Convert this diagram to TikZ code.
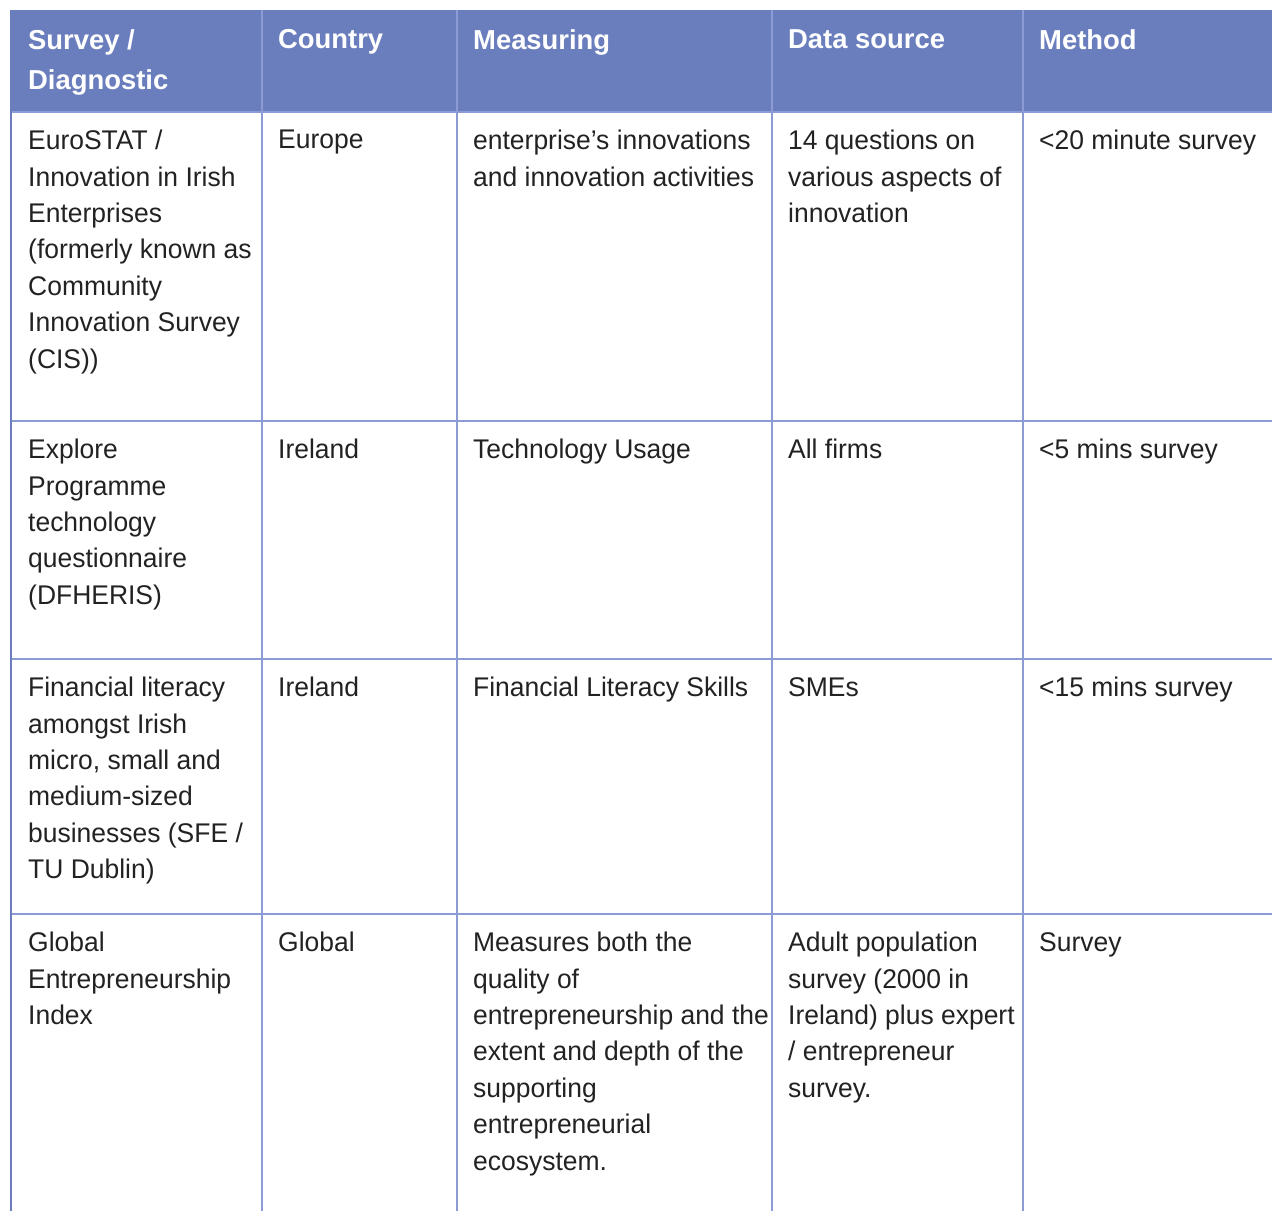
\documentclass[tikz,border=0pt]{standalone}
\usepackage{fontspec}
\setmainfont{Liberation Sans}
\newfontfamily\bodyfont{Liberation Sans}[FakeStretch=0.98]
\definecolor{headblue}{RGB}{106,126,190}
\definecolor{gridblue}{RGB}{140,155,214}
\definecolor{cellgray}{RGB}{34,34,34}

\begin{document}
\begin{tikzpicture}[x=1pt,y=-1pt,
  cell/.style={anchor=north west,inner sep=0pt,align=left,text=cellgray,
    font=\bodyfont\fontsize{27}{36.4}\selectfont},
  headcell/.style={cell,text=white,font=\bfseries\fontsize{27.4}{40}\selectfont}]
\useasboundingbox (0,0) rectangle (1272,1211);
% header band and grid
\fill[headblue] (11,10) rectangle (1272,112);
\foreach \ry in {112,421,659,914}
  \draw[gridblue,line width=1.2pt] (11,\ry) -- (1272,\ry);
\foreach \cx in {262,457,772,1023}
  \draw[gridblue,line width=1.2pt] (\cx,10) -- (\cx,1211);
\draw[headblue,line width=2.5pt] (11,10) -- (11,1211);

% header
\node[headcell] (hsurvey) at (28,29.6) {Survey /\\Diagnostic};
\node[headcell] (hcountry) at (278,29.6) {Country};
\node[headcell] (hmeasure) at (473,29.6) {Measuring};
\node[headcell] (hsource) at (788,29.6) {Data source};
\node[headcell] (hmethod) at (1039,29.6) {Method};

% row: EuroSTAT
\node[cell] (eurosurvey) at (28,130) {EuroSTAT /\\Innovation in Irish\\Enterprises\\(formerly known as\\Community\\Innovation Survey\\(CIS))};
\node[cell] (eurocountry) at (278,130) {Europe};
\node[cell] (euromeasure) at (473,130) {enterprise’s innovations\\and innovation activities};
\node[cell] (eurosource) at (788,130) {14 questions on\\various aspects of\\innovation};
\node[cell] (euromethod) at (1039,130) {<20 minute survey};

% row: Explore
\node[cell] (explsurvey) at (28,439) {Explore\\Programme\\technology\\questionnaire\\(DFHERIS)};
\node[cell] (explcountry) at (278,439) {Ireland};
\node[cell] (explmeasure) at (473,439) {Technology Usage};
\node[cell] (explsource) at (788,439) {All firms};
\node[cell] (explmethod) at (1039,439) {<5 mins survey};

% row: Financial literacy
\node[cell] (finsurvey) at (28,677) {Financial literacy\\amongst Irish\\micro, small and\\medium-sized\\businesses (SFE /\\TU Dublin)};
\node[cell] (fincountry) at (278,677) {Ireland};
\node[cell] (finmeasure) at (473,677) {Financial Literacy Skills};
\node[cell] (finsource) at (788,677) {SMEs};
\node[cell] (finmethod) at (1039,677) {<15 mins survey};

% row: GEI
\node[cell] (geisurvey) at (28,932) {Global\\Entrepreneurship\\Index};
\node[cell] (geicountry) at (278,932) {Global};
\node[cell] (geimeasure) at (473,932) {Measures both the\\quality of\\entrepreneurship and the\\extent and depth of the\\supporting\\entrepreneurial\\ecosystem.};
\node[cell] (geisource) at (788,932) {Adult population\\survey (2000 in\\Ireland) plus expert\\/ entrepreneur\\survey.};
\node[cell] (geimethod) at (1039,932) {Survey};
\end{tikzpicture}
\end{document}
